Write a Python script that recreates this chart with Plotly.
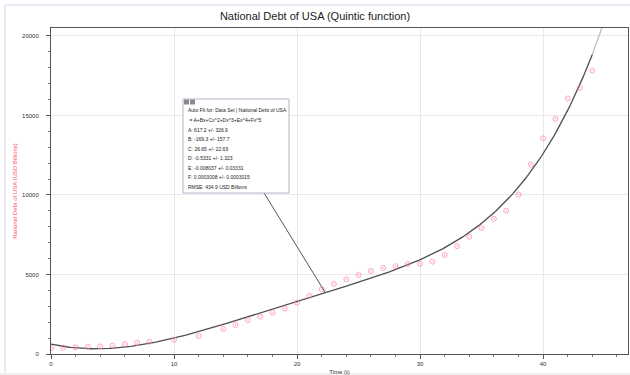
import numpy as np
import plotly.graph_objects as go

# ---- data ----
time_t = [0, 1, 2, 3, 4, 5, 6, 7, 8, 10, 12,
          14, 15, 16, 17, 18, 19, 20, 21, 22, 23, 24, 25, 26, 27, 28, 29,
          30, 31, 32, 33, 34, 35, 36, 37, 38, 39, 40, 41, 42, 43, 44]
debt_usd_bn = [371, 398, 427, 458, 475, 533, 620, 699, 771, 908, 1142,
               1572, 1823, 2125, 2350, 2602, 2857, 3233, 3665, 4065, 4411, 4693,
               4974, 5225, 5413, 5526, 5656, 5674, 5807, 6228, 6783, 7379, 7933,
               8507, 9008, 10025, 11910, 13562, 14790, 16066, 16738, 17824]

# quintic fit parameters shown in the chart
fit_names = ["A", "B", "C", "D", "E", "F"]
fit_values = [617.2, -169.3, 26.65, -0.5331, -0.008037, 0.0003008]
fit_errors = ["326.9", "157.7", "22.69", "1.323", "0.03331", "0.0003015"]
fit_value_text = ["617.2", "-169.3", "26.65", "-0.5331", "-0.008037", "0.0003008"]
rmse_text = "RMSE: 434.9 USD Billions"

x_ticks = [0, 10, 20, 30, 40]
y_ticks = [0, 5000, 10000, 15000, 20000]


def quintic(t):
    t = np.asarray(t, dtype=float)
    return sum(c * t ** i for i, c in enumerate(fit_values))


t_fit_in = np.linspace(0, 44, 300)
t_fit_out = np.linspace(44, 46.5, 60)

W, H = 630, 375
ML, MR, MT, MB = 51, 2, 28, 21
PW, PH = W - ML - MR, H - MT - MB


def px(xp):
    return (xp - ML) / PW


def py(yp):
    return (H - MB - yp) / PH


fig = go.Figure()
fig.add_trace(go.Scatter(x=t_fit_out, y=quintic(t_fit_out), mode="lines",
                         line=dict(color="#bbbbbb", width=1.2), hoverinfo="skip",
                         showlegend=False))
fig.add_trace(go.Scatter(x=t_fit_in, y=quintic(t_fit_in), mode="lines",
                         line=dict(color="#4f4f4f", width=1.3), hoverinfo="skip",
                         showlegend=False))
fig.add_trace(go.Scatter(x=time_t, y=debt_usd_bn, mode="markers",
                         marker=dict(symbol="circle-open-dot", size=5,
                                     color="rgba(255,130,160,0.7)",
                                     line=dict(width=1, color="rgba(255,130,160,0.7)")),
                         showlegend=False))

# pointer line from the fit box to the curve
t_ptr = 22.3
fig.add_shape(type="line", xref="x", yref="y",
              x0=(264 - ML) / 12.3, y0=(H - MB - 193) / PH * 20500,
              x1=t_ptr, y1=float(quintic(t_ptr)),
              line=dict(color="#555555", width=1))

# fit box
fig.add_shape(type="rect", xref="paper", yref="paper",
              x0=px(183), x1=px(289), y0=py(193), y1=py(99),
              line=dict(color="#b4b4cc", width=1), fillcolor="white", layer="above")
for x0 in (184, 190):
    fig.add_shape(type="rect", xref="paper", yref="paper",
                  x0=px(x0), x1=px(x0 + 5), y0=py(104.5), y1=py(99.5),
                  line=dict(width=0), fillcolor="#8a8a8a", layer="above")

lines = ["Auto Fit for: Data Set | National Debt of USA",
         " = A+Bx+Cx^2+Dx^3+Ex^4+Fx^5"]
lines += [f"{n}: {v} +/- {e}" for n, v, e in zip(fit_names, fit_value_text, fit_errors)]
lines += [rmse_text]
line_y = [110, 120, 129.5, 139, 148.5, 158, 167.5, 177, 186.5]
for txt, yy in zip(lines, line_y):
    fig.add_annotation(text=txt, xref="paper", yref="paper", x=px(186), y=py(yy),
                       xanchor="left", yanchor="middle", showarrow=False,
                       font=dict(family="Liberation Sans, Arial", size=5, color="#222222"))

# outer frame decorations
fig.add_shape(type="line", xref="paper", yref="paper", x0=px(5), x1=px(5),
              y0=py(375), y1=py(5), line=dict(color="#d6d6ea", width=1))
fig.add_shape(type="line", xref="paper", yref="paper", x0=px(5), x1=px(630),
              y0=py(5), y1=py(5), line=dict(color="#d6d6ea", width=1))
fig.add_shape(type="rect", xref="paper", yref="paper", x0=px(0), x1=px(630),
              y0=py(375), y1=py(373), line=dict(width=0), fillcolor="#efefef")

axis_common = dict(showline=True, linecolor="#555555", linewidth=1, mirror=True,
                   showgrid=True, gridcolor="#e9e9e9", gridwidth=1, zeroline=False,
                   ticks="outside", ticklen=4, tickcolor="#555555",
                   tickfont=dict(family="Liberation Sans, Arial", size=6, color="#333333"))

fig.update_layout(
    width=W, height=H, margin=dict(l=ML, r=MR, t=MT, b=MB),
    paper_bgcolor="white", plot_bgcolor="white",
    title=dict(text="National Debt of USA (Quintic function)", x=0.5, xanchor="center",
               y=1 - 16 / H, yanchor="middle",
               font=dict(family="Liberation Sans, Arial", size=11, color="#222222")),
    xaxis=dict(range=[0, 46.9], tickvals=x_ticks, ticktext=[str(v) for v in x_ticks],
               minor=dict(dtick=2, ticks="outside", ticklen=2, tickcolor="#777777", showgrid=False),
               title=dict(text="Time (t)", standoff=3,
                          font=dict(family="Liberation Sans, Arial", size=6, color="#333333")),
               **axis_common),
    yaxis=dict(range=[0, 20500], tickvals=y_ticks, ticktext=[str(v) for v in y_ticks],
               ticklabelstandoff=6,
               minor=dict(dtick=1000, ticks="outside", ticklen=2, tickcolor="#777777", showgrid=False),
               title=dict(text="National Debt of USA (USD Billions)", standoff=4,
                          font=dict(family="Liberation Sans, Arial", size=6, color="#ff4d6d")),
               **axis_common),
)

fig.write_html("out.html", config={"displayModeBar": False},
               post_script="document.body.style.margin='0';document.body.style.overflow='hidden';")
